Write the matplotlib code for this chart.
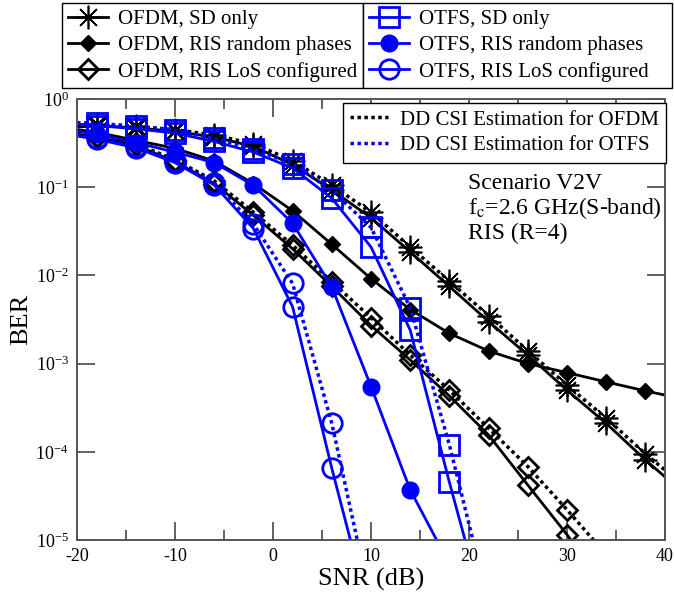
import numpy as np
import matplotlib
matplotlib.use("Agg")
import matplotlib.pyplot as plt
from matplotlib.ticker import LogLocator, MultipleLocator, NullLocator

plt.rcParams["font.family"] = ["Liberation Serif", "DejaVu Serif"]
plt.rcParams["mathtext.fontset"] = "stix"
plt.rcParams["axes.unicode_minus"] = False

# SNR points where markers sit
snr = [-18, -14, -10, -6, -2, 2, 6, 10, 14, 18, 22, 26, 30, 34, 38]

# BER read at the markers
ber_ofdm_sd = [0.50, 0.47, 0.43, 0.37, 0.29, 0.18, 0.093, 0.045, 0.0185,
               0.0075, 0.003, 0.00125, 0.0005, 0.00021, 8.1e-5]
ber_ofdm_sd_dd = [0.52, 0.49, 0.45, 0.39, 0.31, 0.20, 0.105, 0.052, 0.021,
                  0.0086, 0.0035, 0.0014, 0.00057, 0.00024, 9.5e-5]
ber_ofdm_rand = [0.42, 0.34, 0.276, 0.198, 0.11, 0.054, 0.0225, 0.0092,
                 0.0041, 0.0022, 0.00139, 0.001, 0.00079, 0.00062, 0.00049]
ber_ofdm_los = [0.37, 0.30, 0.195, 0.11, 0.048, 0.020, 0.0075, 0.0027,
                0.0011, 0.00043, 0.000155, 4.2e-5, 1.15e-5]
ber_ofdm_los_dd = [0.38, 0.31, 0.205, 0.118, 0.052, 0.022, 0.0085, 0.0033,
                   0.00125, 0.0005, 0.000185, 6.8e-5, 2.2e-5]
ber_otfs_sd = [0.50, 0.46, 0.41, 0.33, 0.25, 0.165, 0.075, 0.021, 0.0024,
               4.5e-5]
ber_otfs_sd_dd = [0.53, 0.49, 0.44, 0.36, 0.27, 0.185, 0.092, 0.035, 0.0043,
                  1.2e-4]
ber_otfs_rand = [0.40, 0.32, 0.25, 0.19, 0.105, 0.039, 0.0074, 0.00055,
                 3.7e-5]
ber_otfs_los = [0.35, 0.28, 0.19, 0.106, 0.034, 0.0044, 6.5e-5]
ber_otfs_los_dd = [0.36, 0.29, 0.20, 0.112, 0.038, 0.0081, 2.1e-4]

# where each curve meets the left edge and where it leaves the frame
left_ber = {"ofdm_sd": 0.48, "ofdm_sd_dd": 0.50, "ofdm_rand": 0.45,
            "ofdm_los": 0.40, "ofdm_los_dd": 0.41, "otfs_sd": 0.52,
            "otfs_sd_dd": 0.54, "otfs_rand": 0.43, "otfs_los": 0.38,
            "otfs_los_dd": 0.39}
right_end = {"ofdm_sd": (40, 5.2e-5), "ofdm_sd_dd": (40, 6.2e-5),
             "ofdm_rand": (40, 0.00044), "ofdm_los": (30.4, 1e-5),
             "ofdm_los_dd": (32.7, 1e-5), "otfs_sd": (19.6, 1e-5),
             "otfs_sd_dd": (20.4, 1e-5), "otfs_rand": (16.7, 1e-5),
             "otfs_los": (7.9, 1e-5), "otfs_los_dd": (8.6, 1e-5)}

legend_left = ["OFDM, SD only", "OFDM, RIS random phases",
               "OFDM, RIS LoS configured"]
legend_right = ["OTFS, SD only", "OTFS, RIS random phases",
                "OTFS, RIS LoS configured"]
legend_dd = ["DD CSI Estimation for OFDM", "DD CSI Estimation for OTFS"]

BLUE = "#0000ff"
DOT = (0, (1, 1))

fig = plt.figure(figsize=(6.74, 6.05), dpi=100)
ax = fig.add_axes([77 / 674, 65 / 605, 588 / 674, 441 / 605])


def curve(key, vals, **kw):
    n = len(vals)
    xs = [-20] + snr[:n] + [right_end[key][0]]
    ys = [left_ber[key]] + list(vals) + [right_end[key][1]]
    return ax.plot(xs, ys, markevery=slice(1, n + 1), clip_on=True, **kw)[0]


star = dict(marker=(8, 2, 0), ms=17, mew=1.2)
h_ofdm_sd = curve("ofdm_sd", ber_ofdm_sd, color="k", lw=2, **star)
curve("ofdm_sd_dd", ber_ofdm_sd_dd, color="k", lw=2.5, ls=DOT, **star)
h_ofdm_rand = curve("ofdm_rand", ber_ofdm_rand, color="k", lw=2,
                    marker="D", ms=8.5, mfc="k", mec="k")
dia = dict(marker="D", ms=10.5, mfc="none", mew=2)
h_ofdm_los = curve("ofdm_los", ber_ofdm_los, color="k", lw=2, **dia)
curve("ofdm_los_dd", ber_ofdm_los_dd, color="k", lw=2.5, ls=DOT, **dia)

sq = dict(marker="s", ms=14, mfc="none", mew=2)
h_otfs_sd = curve("otfs_sd", ber_otfs_sd, color=BLUE, lw=2, **sq)
curve("otfs_sd_dd", ber_otfs_sd_dd, color=BLUE, lw=2.5, ls=DOT, **sq)
h_otfs_rand = curve("otfs_rand", ber_otfs_rand, color=BLUE, lw=2,
                    marker="o", ms=12, mfc=BLUE, mec=BLUE)
circ = dict(marker="o", ms=14, mfc="none", mew=2)
h_otfs_los = curve("otfs_los", ber_otfs_los, color=BLUE, lw=2, **circ)
curve("otfs_los_dd", ber_otfs_los_dd, color=BLUE, lw=2.5, ls=DOT, **circ)

ax.set_yscale("log")
ax.set_xlim(-20, 40)
ax.set_ylim(1e-5, 1)
ax.xaxis.set_major_locator(MultipleLocator(10))
ax.xaxis.set_minor_locator(MultipleLocator(5))
ax.yaxis.set_major_locator(LogLocator(base=10, numticks=10))
ax.yaxis.set_minor_locator(NullLocator())
ax.tick_params(which="both", direction="in", top=True, right=True,
               color="#555555", width=1.3, labelsize=13, pad=6)
ax.tick_params(which="major", length=13)
ax.tick_params(which="minor", length=7)
for sp in ax.spines.values():
    sp.set_color("#555555")
    sp.set_linewidth(1.4)

ax.set_xlabel("SNR (dB)", fontsize=19, labelpad=2)
ax.set_ylabel("BER", fontsize=19, labelpad=2)

ax.text(0.665, 0.8095, "Scenario V2V", transform=ax.transAxes,
        fontsize=17, va="center")
ax.text(0.665, 0.7528, r"f$_\mathrm{c}$=2.6 GHz(S-band)",
        transform=ax.transAxes, fontsize=17, va="center")
ax.text(0.665, 0.6961, "RIS (R=4)", transform=ax.transAxes,
        fontsize=17, va="center")

leg_kw = dict(loc="upper left", mode="expand", borderaxespad=0,
              fontsize=15, frameon=True, fancybox=False, edgecolor="k",
              handlelength=1.9, handletextpad=0.5, labelspacing=0.32,
              borderpad=0.3, framealpha=1)
leg1 = fig.legend([h_ofdm_sd, h_ofdm_rand, h_ofdm_los], legend_left,
                  bbox_to_anchor=(62 / 674, 0.848, 301 / 674, 0.147),
                  **leg_kw)
leg2 = fig.legend([h_otfs_sd, h_otfs_rand, h_otfs_los], legend_right,
                  bbox_to_anchor=(363 / 674, 0.848, 309 / 674, 0.147),
                  **leg_kw)
for leg in (leg1, leg2):
    leg.get_frame().set_linewidth(1.0)

dd_k = plt.Line2D([], [], color="k", lw=2.5, ls=DOT)
dd_b = plt.Line2D([], [], color=BLUE, lw=2.5, ls=DOT)
leg3 = fig.legend([dd_k, dd_b], legend_dd, loc="upper left",
                  bbox_to_anchor=(343 / 674, 1 - 103 / 605),
                  borderaxespad=0, fontsize=15, fancybox=False,
                  edgecolor="k", handlelength=1.8, handletextpad=0.6,
                  labelspacing=0.3, borderpad=0.34, framealpha=1)
leg3.get_frame().set_linewidth(1.0)

fig.savefig("out.png", dpi=100)
